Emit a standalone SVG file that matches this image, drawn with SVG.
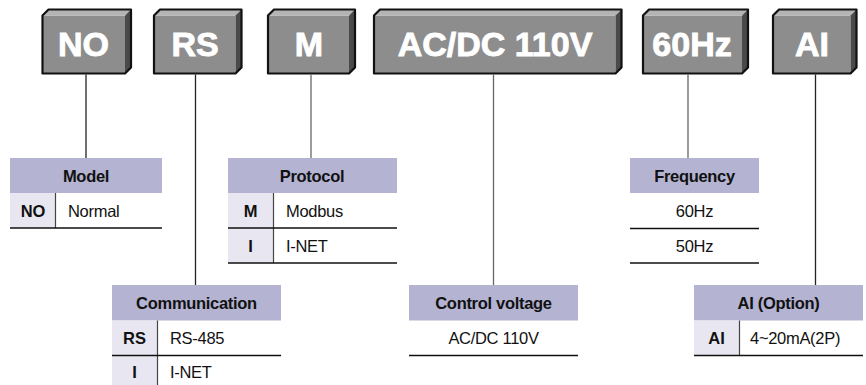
<svg xmlns="http://www.w3.org/2000/svg" width="866" height="385" viewBox="0 0 866 385">
<style>
.face{fill:#8d8d8d}
.top{fill:#b4b4b4}
.side{fill:#4a4a4a}
.outline{fill:none;stroke:#111;stroke-width:2.2;stroke-linejoin:round}
.big{font-family:"Liberation Sans",Arial,sans-serif;font-weight:bold;font-size:34px;fill:#fff;stroke:#fff;stroke-width:0.9;text-anchor:middle}
.hdr{fill:#b4b3d2}
.key{fill:#e8e7f1}
.ht{font-family:"Liberation Sans",Arial,sans-serif;font-weight:bold;font-size:16.5px;letter-spacing:-0.3px;fill:#111;text-anchor:middle}
.kt{font-family:"Liberation Sans",Arial,sans-serif;font-weight:bold;font-size:16.5px;fill:#111;text-anchor:middle}
.vt{font-family:"Liberation Sans",Arial,sans-serif;font-size:16.5px;letter-spacing:-0.3px;fill:#111}
.vc{font-family:"Liberation Sans",Arial,sans-serif;font-size:16.5px;letter-spacing:-0.3px;fill:#111;text-anchor:middle}
.rl{stroke:#111;stroke-width:1.4}
.dv{stroke:#444;stroke-width:1.2}
.cn{fill:none;stroke:#222;stroke-width:1.3}
.cg{fill:none;stroke:#666;stroke-width:1.3}
</style>

<g id="box-NO">
<rect class="face" x="42.5" y="15.5" width="82.5" height="58"/>
<polygon class="top" points="42.5,15.5 48.5,9.5 131,9.5 125,15.5"/>
<polygon class="side" points="125,15.5 131,9.5 131,67.5 125,73.5"/>
<path class="outline" d="M42.5,15.5 L48.5,9.5 L131,9.5 L131,67.5 L125,73.5 L42.5,73.5 Z"/>
<text class="big" x="83.5" y="55.5">NO</text>
</g>

<g id="box-RS">
<rect class="face" x="154" y="15.5" width="81.5" height="58"/>
<polygon class="top" points="154,15.5 160,9.5 241.5,9.5 235.5,15.5"/>
<polygon class="side" points="235.5,15.5 241.5,9.5 241.5,67.5 235.5,73.5"/>
<path class="outline" d="M154,15.5 L160,9.5 L241.5,9.5 L241.5,67.5 L235.5,73.5 L154,73.5 Z"/>
<text class="big" x="195" y="55.5">RS</text>
</g>

<g id="box-M">
<rect class="face" x="268" y="15.5" width="81" height="58"/>
<polygon class="top" points="268,15.5 274,9.5 355,9.5 349,15.5"/>
<polygon class="side" points="349,15.5 355,9.5 355,67.5 349,73.5"/>
<path class="outline" d="M268,15.5 L274,9.5 L355,9.5 L355,67.5 L349,73.5 L268,73.5 Z"/>
<text class="big" x="309" y="55.5">M</text>
</g>

<g id="box-ACDC">
<rect class="face" x="374" y="15.5" width="241.5" height="58"/>
<polygon class="top" points="374,15.5 380,9.5 621.5,9.5 615.5,15.5"/>
<polygon class="side" points="615.5,15.5 621.5,9.5 621.5,67.5 615.5,73.5"/>
<path class="outline" d="M374,15.5 L380,9.5 L621.5,9.5 L621.5,67.5 L615.5,73.5 L374,73.5 Z"/>
<text class="big" x="495" y="55.5">AC/DC 110V</text>
</g>

<g id="box-60Hz">
<rect class="face" x="643" y="15.5" width="99" height="58"/>
<polygon class="top" points="643,15.5 649,9.5 748,9.5 742,15.5"/>
<polygon class="side" points="742,15.5 748,9.5 748,67.5 742,73.5"/>
<path class="outline" d="M643,15.5 L649,9.5 L748,9.5 L748,67.5 L742,73.5 L643,73.5 Z"/>
<text class="big" x="692" y="55.5">60Hz</text>
</g>

<g id="box-AI">
<rect class="face" x="773" y="15.5" width="77.5" height="58"/>
<polygon class="top" points="773,15.5 779,9.5 856.5,9.5 850.5,15.5"/>
<polygon class="side" points="850.5,15.5 856.5,9.5 856.5,67.5 850.5,73.5"/>
<path class="outline" d="M773,15.5 L779,9.5 L856.5,9.5 L856.5,67.5 L850.5,73.5 L773,73.5 Z"/>
<text class="big" x="812" y="55.5">AI</text>
</g>

<g id="connectors">
<line class="cn" x1="86" y1="74.5" x2="86" y2="158"/>
<line class="cn" x1="195.5" y1="74.5" x2="195.5" y2="285"/>
<line class="cg" x1="311" y1="74.5" x2="311" y2="158"/>
<line class="cg" x1="493.5" y1="74.5" x2="493.5" y2="285"/>
<line class="cg" x1="688" y1="74.5" x2="688" y2="158"/>
<line class="cn" x1="815.5" y1="74.5" x2="815.5" y2="285"/>
</g>

<g id="table-model">
<rect class="hdr" x="10" y="158" width="152" height="35"/>
<text class="ht" x="86" y="181.5">Model</text>
<rect class="key" x="10" y="193" width="45.5" height="35"/>
<line class="dv" x1="55.5" y1="193" x2="55.5" y2="228"/>
<line class="rl" x1="10" y1="228" x2="162" y2="228"/>
<text class="kt" x="33" y="216.5">NO</text>
<text class="vt" x="68" y="216.5">Normal</text>
</g>

<g id="table-protocol">
<rect class="hdr" x="228" y="158" width="169" height="35"/>
<text class="ht" x="312" y="181.5">Protocol</text>
<rect class="key" x="228" y="193" width="45.5" height="70"/>
<line class="dv" x1="273.5" y1="193" x2="273.5" y2="263"/>
<line class="rl" x1="228" y1="228" x2="397" y2="228"/>
<line class="rl" x1="228" y1="263" x2="397" y2="263"/>
<text class="kt" x="250.5" y="216.5">M</text>
<text class="vt" x="286" y="216.5">Modbus</text>
<text class="kt" x="250.5" y="251.5">I</text>
<text class="vt" x="286" y="251.5">I-NET</text>
</g>

<g id="table-communication">
<rect class="hdr" x="112" y="285" width="169" height="35.5"/>
<text class="ht" x="196.5" y="309">Communication</text>
<rect class="key" x="112" y="320.5" width="45.5" height="64.5"/>
<line class="dv" x1="157.5" y1="320.5" x2="157.5" y2="385"/>
<line class="rl" x1="112" y1="355.5" x2="281" y2="355.5"/>
<text class="kt" x="134.5" y="344">RS</text>
<text class="vt" x="170" y="344">RS-485</text>
<text class="kt" x="134.5" y="378">I</text>
<text class="vt" x="170" y="378">I-NET</text>
</g>

<g id="table-control-voltage">
<rect class="hdr" x="409" y="285" width="169" height="35.5"/>
<text class="ht" x="493.5" y="309">Control voltage</text>
<line class="rl" x1="409" y1="355.5" x2="578" y2="355.5"/>
<text class="vc" x="493.5" y="344">AC/DC 110V</text>
</g>

<g id="table-frequency">
<rect class="hdr" x="630" y="158" width="129" height="35"/>
<text class="ht" x="694.5" y="181.5">Frequency</text>
<line class="rl" x1="630" y1="228.5" x2="759" y2="228.5"/>
<line class="rl" x1="630" y1="263" x2="759" y2="263"/>
<text class="vc" x="694.5" y="216.5">60Hz</text>
<text class="vc" x="694.5" y="251.5">50Hz</text>
</g>

<g id="table-ai">
<rect class="hdr" x="694" y="285" width="169" height="35.5"/>
<text class="ht" x="778.5" y="309">AI (Option)</text>
<rect class="key" x="694" y="320.5" width="45.5" height="35"/>
<line class="dv" x1="739.5" y1="320.5" x2="739.5" y2="355.5"/>
<line class="rl" x1="694" y1="355.5" x2="863" y2="355.5"/>
<text class="kt" x="716.5" y="344">AI</text>
<text class="vt" x="750" y="344">4~20mA(2P)</text>
</g>
</svg>
